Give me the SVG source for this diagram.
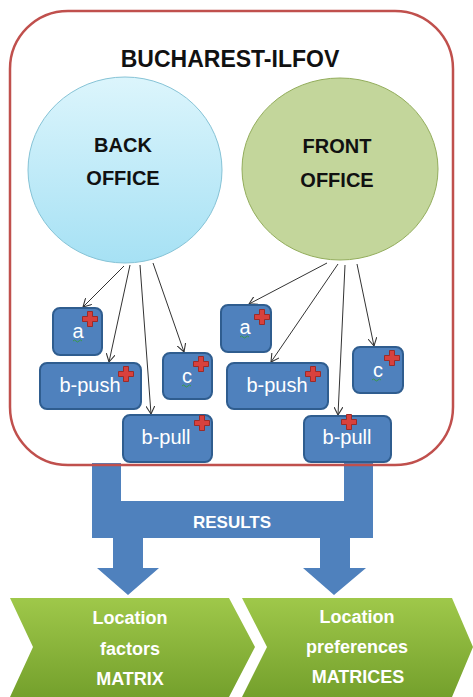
<svg xmlns="http://www.w3.org/2000/svg" width="473" height="697" viewBox="0 0 473 697">
<style>
.title{font-family:"Liberation Sans",Arial,sans-serif;font-weight:bold;fill:#111;text-anchor:middle}
.box{fill:#4f81bd;stroke:#2f5d8f;stroke-width:2}
.boxt{font-family:"Liberation Sans",Arial,sans-serif;font-size:20px;fill:#fff;text-anchor:middle}
.wt{font-family:"Liberation Sans",Arial,sans-serif;font-weight:bold;fill:#fff;text-anchor:middle}
.con{stroke:#333;stroke-width:1;fill:none;marker-end:url(#arr)}
.sq{stroke:#3a9a4a;stroke-width:1;fill:none}
</style>
<defs>
<marker id="arr" viewBox="0 0 10 10" refX="9" refY="5" markerWidth="9" markerHeight="9" markerUnits="userSpaceOnUse" orient="auto">
<path d="M0,0 L9,5 L0,10" fill="none" stroke="#333" stroke-width="1.2"/>
</marker>
<linearGradient id="gBack" x1="0" y1="0" x2="0" y2="1">
<stop offset="0" stop-color="#dcf5fc"/>
<stop offset="1" stop-color="#a6e1f4"/>
</linearGradient>
<linearGradient id="gGreen" x1="0" y1="0" x2="0" y2="1">
<stop offset="0" stop-color="#9fc84a"/>
<stop offset="1" stop-color="#74a02c"/>
</linearGradient>
<symbol id="cross" overflow="visible">
<path d="M-2.5,-7.5 H2.5 V-2.5 H7.5 V2.5 H2.5 V7.5 H-2.5 V2.5 H-7.5 V-2.5 H-2.5 Z" fill="#d8413d" stroke="#9b2b28" stroke-width="1"/>
</symbol>
</defs>

<g id="results-arrow">
<path d="M92,463 L121,463 L121,501 L344,501 L344,463 L373,463 L373,538 L350,538 L350,568 L366,568 L334,595 L303,568 L320,568 L320,538 L143,538 L143,568 L159,568 L128,595 L97,568 L113,568 L113,538 L92,538 Z" fill="#4f81bd"/>
<text class="wt" x="232" y="528" font-size="17">RESULTS</text>
</g>

<g id="region">
<rect x="10" y="11" width="443" height="454" rx="58" fill="none" stroke="#c0504d" stroke-width="2.5"/>
<text class="title" x="230" y="67" font-size="23">BUCHAREST-ILFOV</text>
</g>

<g id="back-office">
<ellipse cx="125" cy="170" rx="97" ry="93" fill="url(#gBack)" stroke="#86c3d6" stroke-width="1"/>
<text class="title" x="123" y="152" font-size="20">BACK</text>
<text class="title" x="123" y="185" font-size="20">OFFICE</text>
</g>

<g id="front-office">
<ellipse cx="340" cy="169" rx="98" ry="91" fill="#c3d69b" stroke="#93ad5c" stroke-width="1"/>
<text class="title" x="337" y="153" font-size="20">FRONT</text>
<text class="title" x="337" y="187" font-size="20">OFFICE</text>
</g>

<g id="connectors">
<line class="con" x1="124" y1="266" x2="83" y2="307"/>
<line class="con" x1="130" y1="265" x2="109" y2="362"/>
<line class="con" x1="140" y1="265" x2="151" y2="414"/>
<line class="con" x1="153" y1="263" x2="184" y2="352"/>
<line class="con" x1="327" y1="263" x2="249" y2="304"/>
<line class="con" x1="338" y1="264" x2="271" y2="362"/>
<line class="con" x1="345" y1="265" x2="338" y2="415"/>
<line class="con" x1="357" y1="264" x2="374" y2="346"/>
</g>

<g id="back-a">
<rect class="box" x="53" y="308" width="49" height="47" rx="7"/>
<text class="boxt" x="78" y="338">a</text>
<path class="sq" d="M73,341 q1.5,-2 3,0 t3,0 t3,0"/>
<use href="#cross" x="90" y="319"/>
</g>
<g id="back-b-push">
<rect class="box" x="40" y="363" width="101" height="46" rx="7"/>
<text class="boxt" x="90" y="392">b-push</text>
<use href="#cross" x="126" y="374"/>
</g>
<g id="back-c">
<rect class="box" x="163" y="353" width="49" height="46" rx="7"/>
<text class="boxt" x="187" y="383">c</text>
<path class="sq" d="M182,386 q1.5,-2 3,0 t3,0 t3,0"/>
<use href="#cross" x="201" y="364"/>
</g>
<g id="back-b-pull">
<rect class="box" x="123" y="415" width="89" height="47" rx="7"/>
<text class="boxt" x="166" y="444">b-pull</text>
<use href="#cross" x="202" y="423"/>
</g>

<g id="front-a">
<rect class="box" x="221" y="305" width="50" height="47" rx="7"/>
<text class="boxt" x="245" y="334">a</text>
<path class="sq" d="M240,337 q1.5,-2 3,0 t3,0 t3,0"/>
<use href="#cross" x="262" y="317"/>
</g>
<g id="front-b-push">
<rect class="box" x="227" y="363" width="101" height="46" rx="7"/>
<text class="boxt" x="277" y="392">b-push</text>
<use href="#cross" x="313" y="374"/>
</g>
<g id="front-c">
<rect class="box" x="353" y="347" width="50" height="46" rx="7"/>
<text class="boxt" x="378" y="377">c</text>
<path class="sq" d="M372,380 q1.5,-2 3,0 t3,0 t3,0"/>
<use href="#cross" x="392" y="358"/>
</g>
<g id="front-b-pull">
<rect class="box" x="304" y="416" width="87" height="46" rx="7"/>
<text class="boxt" x="347" y="444">b-pull</text>
<use href="#cross" x="349" y="422"/>
</g>

<g id="location-factors">
<path d="M10,598 L229,598 L255,647 L229,697 L10,697 L33,647 Z" fill="url(#gGreen)"/>
<text class="wt" x="130" y="624" font-size="18">Location</text>
<text class="wt" x="130" y="655" font-size="18">factors</text>
<text class="wt" x="130" y="685" font-size="18">MATRIX</text>
</g>
<g id="location-preferences">
<path d="M242,598 L452,598 L473,647 L452,697 L242,697 L267,647 Z" fill="url(#gGreen)"/>
<text class="wt" x="357" y="623" font-size="18">Location</text>
<text class="wt" x="357" y="653" font-size="18">preferences</text>
<text class="wt" x="358" y="683" font-size="18">MATRICES</text>
</g>
</svg>
